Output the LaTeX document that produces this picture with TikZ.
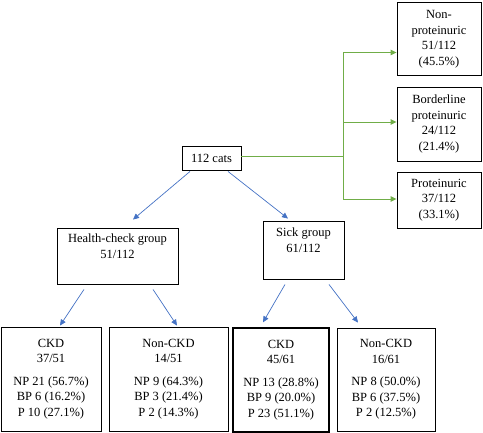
\documentclass[tikz,border=0pt]{standalone}
\usepackage{fontspec}
\setmainfont{Liberation Serif}
\usetikzlibrary{arrows.meta}
\definecolor{linkblue}{HTML}{4472C4}
\definecolor{linkgreen}{HTML}{70AD47}
\begin{document}
\begin{tikzpicture}[
  x=1pt, y=-1pt,
  box/.style={draw, line width=0.9pt, align=center, inner sep=0pt, font=\fontsize{12.5}{15.5}\selectfont},
  barr/.style={-{Triangle[length=6pt,width=5.5pt]}, linkblue, line width=0.7pt},
  garr/.style={-{Triangle[length=6pt,width=5.5pt]}, linkgreen, line width=0.9pt}
]
\useasboundingbox (0,0) rectangle (483,433);
\node[box, minimum width=59pt, minimum height=24pt] (cats) at (211.5,158) {112 cats};
\node[box, minimum width=84pt, minimum height=73pt] (np) at (439,39) {Non-\\proteinuric\\51/112\\(45.5\%)};
\node[box, minimum width=84pt, minimum height=74pt] (bp) at (439,124) {Borderline\\proteinuric\\24/112\\(21.4\%)};
\node[box, minimum width=84pt, minimum height=56pt] (pr) at (439,200) {Proteinuric\\37/112\\(33.1\%)};
\node[box, minimum width=121pt, minimum height=56pt] (hc) at (117.5,256) {Health-check group\\51/112\\\strut};
\node[box, minimum width=81pt, minimum height=58pt] (sick) at (303.5,250) {Sick group\\61/112\\\strut};
\node[box, minimum width=100pt, minimum height=104pt] (ckdA) at (51,379) {CKD\\37/51\\[7pt]NP 21 (56.7\%)\\BP 6 (16.2\%)\\P 10 (27.1\%)};
\node[box, minimum width=119pt, minimum height=104pt] (nckdA) at (168.5,379) {Non-CKD\\14/51\\[7pt]NP 9 (64.3\%)\\BP 3 (21.4\%)\\P 2 (14.3\%)};
\node[box, line width=1.3pt, minimum width=96pt, minimum height=104pt] (ckdB) at (281,380) {CKD\\45/61\\[7pt]NP 13 (28.8\%)\\BP 9 (20.0\%)\\P 23 (51.1\%)};
\node[box, minimum width=98pt, minimum height=103pt] (nckdB) at (386,379.5) {Non-CKD\\16/61\\[7pt]NP 8 (50.0\%)\\BP 6 (37.5\%)\\P 2 (12.5\%)};
\coordinate (split) at (343,156);

% green branches to the proteinuria boxes
\draw[linkgreen, line width=0.9pt] ([yshift=2pt]cats.east) -- (split);
\draw[garr] (split) |- ([yshift=-13.5pt]np.west);
\draw[garr] (split) |- ([yshift=2pt]bp.west);
\draw[garr] (split) |- ([yshift=1pt]pr.west);

% blue tree
\draw[barr] ([xshift=-21.5pt,yshift=-1pt]cats.south) -- ([xshift=15.5pt,yshift=8pt]hc.north);
\draw[barr] ([xshift=16.5pt,yshift=-1pt]cats.south) -- ([xshift=-15.5pt,yshift=2pt]sick.north);
\draw[barr] ([xshift=-33.5pt,yshift=-5pt]hc.south) -- ([xshift=9pt,yshift=1pt]ckdA.north);
\draw[barr] ([xshift=35.5pt,yshift=-5pt]hc.south) -- ([xshift=8.5pt,yshift=1pt]nckdA.north);
\draw[barr] ([xshift=-18.5pt,yshift=-5pt]sick.south) -- ([xshift=-18pt,yshift=5pt]ckdB.north);
\draw[barr] ([xshift=25.5pt,yshift=-5pt]sick.south) -- ([xshift=-28pt,yshift=5pt]nckdB.north);
\end{tikzpicture}
\end{document}
